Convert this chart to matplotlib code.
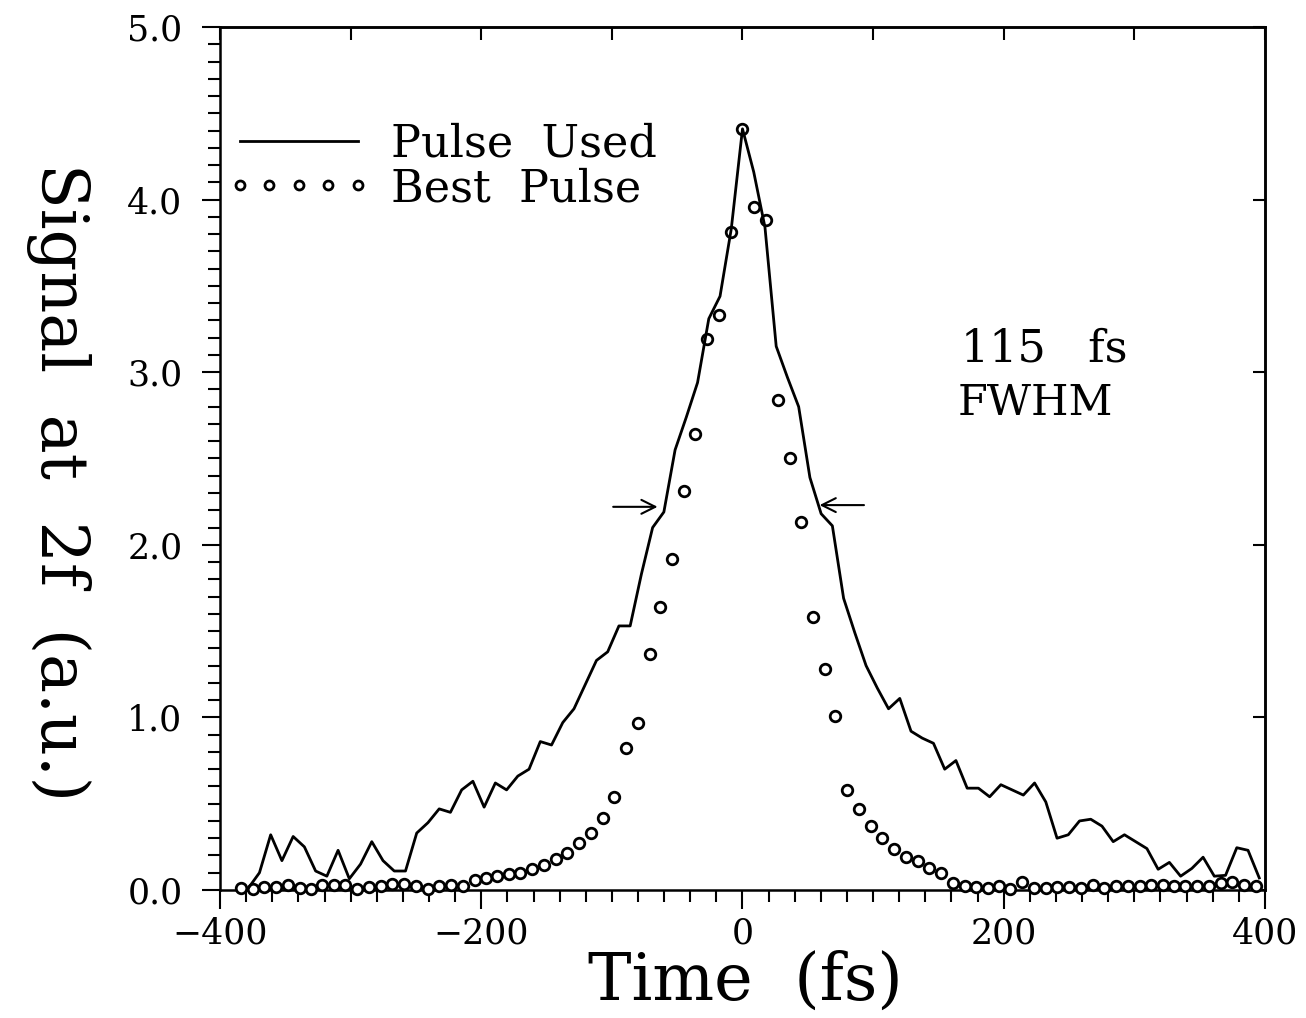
import matplotlib
matplotlib.use("Agg")
import matplotlib.pyplot as plt
from matplotlib.ticker import MultipleLocator
from matplotlib.lines import Line2D
from matplotlib.legend_handler import HandlerLine2D

plt.rcParams['font.family'] = ['DejaVu Serif']

# ---- data: "Pulse Used" (solid line) ----
used_time_fs = [-378.4, -369.8, -361.2, -352.6, -344.0, -335.4, -326.8, -318.2, -309.6, -301.0,
                -292.4, -283.8, -275.2, -266.6, -258.0, -249.4, -240.8, -232.2, -223.6, -215.0,
                -206.4, -197.8, -189.2, -180.6, -172.0, -163.4, -154.8, -146.2, -137.6, -129.0,
                -120.4, -111.8, -103.2, -94.6, -86.0, -77.4, -68.8, -60.2, -51.6, -43.0,
                -34.4, -25.8, -17.2, -8.6, 0.0, 8.6, 17.2, 25.8, 34.4, 43.0,
                51.6, 60.2, 68.8, 77.4, 86.0, 94.6, 103.2, 111.8, 120.4, 129.0,
                137.6, 146.2, 154.8, 163.4, 172.0, 180.6, 189.2, 197.8, 206.4, 215.0,
                223.6, 232.2, 240.8, 249.4, 258.0, 266.6, 275.2, 283.8, 292.4, 301.0,
                309.6, 318.2, 326.8, 335.4, 344.0, 352.6, 361.2, 369.8, 378.4, 387.0,
                395.6]
used_signal = [0.01, 0.10, 0.32, 0.17, 0.31, 0.25, 0.11, 0.08, 0.23, 0.065,
               0.15, 0.28, 0.17, 0.11, 0.11, 0.33, 0.39, 0.47, 0.45, 0.58,
               0.63, 0.48, 0.62, 0.58, 0.66, 0.70, 0.86, 0.84, 0.97, 1.05,
               1.19, 1.33, 1.38, 1.53, 1.53, 1.83, 2.10, 2.19, 2.55, 2.74,
               2.94, 3.31, 3.44, 3.83, 4.41, 4.16, 3.84, 3.15, 2.97, 2.80,
               2.39, 2.18, 2.11, 1.69, 1.49, 1.30, 1.17, 1.05, 1.11, 0.92,
               0.88, 0.85, 0.70, 0.75, 0.59, 0.59, 0.54, 0.61, 0.58, 0.55,
               0.62, 0.51, 0.30, 0.32, 0.40, 0.41, 0.37, 0.28, 0.32, 0.28,
               0.24, 0.12, 0.16, 0.08, 0.125, 0.19, 0.08, 0.085, 0.245, 0.23,
               0.07]

# ---- data: "Best Pulse" (open circles) ----
best_time_fs = [-384, -375, -366, -357, -348, -339, -330, -322, -313, -304,
                -295, -286, -277, -268, -259, -250, -241, -232, -223, -214,
                -205, -196, -188, -179, -170, -161, -152, -143, -134, -125,
                -116, -107, -98, -89, -80, -71, -63, -54, -45, -36,
                -27, -18, -9, 0, 9, 18, 27, 36, 45, 54,
                63, 71, 80, 89, 98, 107, 116, 125, 134, 143,
                152, 161, 170, 179, 188, 196, 205, 214, 223, 232,
                241, 250, 259, 268, 277, 286, 295, 304, 313, 322,
                330, 339, 348, 357, 366, 375, 384, 393]
best_signal = [0.01, 0.005, 0.02, 0.02, 0.03, 0.01, 0.005, 0.03, 0.027, 0.027,
               0.005, 0.015, 0.026, 0.032, 0.032, 0.026, 0.008, 0.025, 0.031, 0.025,
               0.06, 0.07, 0.08, 0.09, 0.10, 0.12, 0.145, 0.18, 0.215, 0.27,
               0.33, 0.42, 0.54, 0.82, 0.97, 1.37, 1.64, 1.92, 2.31, 2.64,
               3.19, 3.33, 3.81, 4.41, 3.96, 3.88, 2.84, 2.50, 2.13, 1.58,
               1.28, 1.01, 0.58, 0.47, 0.37, 0.30, 0.24, 0.19, 0.17, 0.13,
               0.10, 0.04, 0.025, 0.02, 0.01, 0.025, 0.005, 0.045, 0.01, 0.01,
               0.02, 0.02, 0.01, 0.027, 0.01, 0.025, 0.025, 0.025, 0.03, 0.03,
               0.025, 0.025, 0.025, 0.025, 0.04, 0.045, 0.03, 0.025]

x_ticks = [-400, -200, 0, 200, 400]
y_ticks = [0, 1, 2, 3, 4, 5]
y_ticklabels = ['0.0', '1.0', '2.0', '3.0', '4.0', '5.0']
fwhm_half_max = 2.22

W, H = 1306, 1018
fig = plt.figure(figsize=(W / 100, H / 100), dpi=100)
ax = fig.add_axes([220 / W, 128 / H, 1045 / W, 863 / H])

ax.plot(used_time_fs, used_signal, color='black', lw=2.0, zorder=4,
        label='Pulse  Used')
ax.plot(best_time_fs, best_signal, ls='none', marker='o', ms=7.6,
        mfc='white', mec='black', mew=2.0, zorder=3, clip_on=False,
        label='Best  Pulse')

ax.set_xlim(-400, 400)
ax.set_ylim(0, 5)
ax.set_xticks(x_ticks)
ax.set_xticklabels([f'{v}'.replace('-', '\u2212') for v in x_ticks])
ax.xaxis.set_minor_locator(MultipleLocator(20))
ax.set_yticks(y_ticks)
ax.set_yticklabels(y_ticklabels)
ax.yaxis.set_minor_locator(MultipleLocator(0.1))

for s in ax.spines.values():
    s.set_linewidth(1.8)

ax.tick_params(axis='x', which='major', direction='out', length=14, width=1.5,
               pad=5, labelsize=25, top=False)
ax.tick_params(axis='x', which='minor', direction='out', length=8.5, width=1.5,
               top=False)
ax.tick_params(axis='y', which='major', direction='out', length=13, width=1.5,
               pad=14, labelsize=25, right=False)
ax.tick_params(axis='y', which='minor', direction='out', length=9, width=1.5,
               right=False)

secx = ax.secondary_xaxis('top')
secx.set_xticks(range(-400, 401, 100))
secx.tick_params(direction='in', length=9, width=1.5, labeltop=False)
secx.spines['top'].set_linewidth(1.8)
secy = ax.secondary_yaxis('right')
secy.set_yticks(y_ticks)
secy.tick_params(direction='in', length=9, width=1.5, labelright=False)
secy.spines['right'].set_linewidth(1.8)

ax.legend(loc='upper left', bbox_to_anchor=(0.019, 0.889), frameon=False,
          fontsize=32, handlelength=2.65, handletextpad=0.75, labelspacing=0.02,
          borderpad=0, borderaxespad=0, numpoints=5, markerscale=0.85,
          handler_map={Line2D: HandlerLine2D(marker_pad=0)})

ax.text(167, 3.06, '115   fs', fontsize=32, ha='left', va='baseline')
ax.text(165, 2.75, 'FWHM', fontsize=31, ha='left', va='baseline')

arrow_kw = dict(arrowstyle='->', lw=1.5, color='black', mutation_scale=25,
                shrinkA=0, shrinkB=0)
ax.annotate('', xy=(-65, fwhm_half_max), xytext=(-99, fwhm_half_max),
            arrowprops=arrow_kw)
ax.annotate('', xy=(59, fwhm_half_max + 0.01), xytext=(93, fwhm_half_max + 0.01),
            arrowprops=arrow_kw)

fig.text(745 / W, 1 - 982 / H, 'Time  (fs)', fontsize=47, ha='center', va='center')
fig.text(58 / W, 1 - 482 / H, 'Signal  at  2f  (a.u.)', fontsize=47,
         rotation=270, ha='center', va='center')

fig.savefig('out.png', dpi=100)
